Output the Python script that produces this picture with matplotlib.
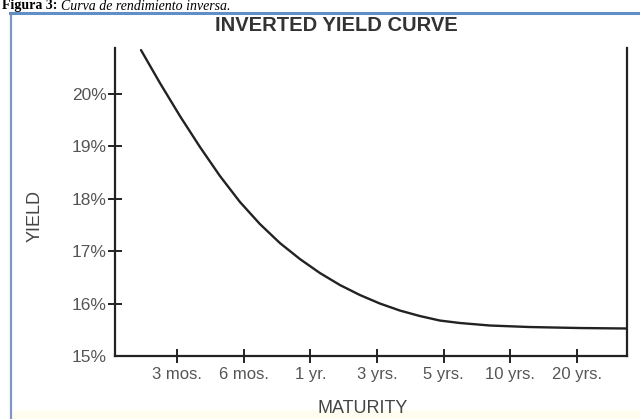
import matplotlib
matplotlib.use("Agg")
import matplotlib.pyplot as plt
import matplotlib.patches as mpatches
import numpy as np

# ---- data ----
maturity_labels = ["3 mos.", "6 mos.", "1 yr.", "3 yrs.", "5 yrs.", "10 yrs.", "20 yrs."]
yield_ticks = [15, 16, 17, 18, 19, 20]
yield_tick_labels = ["15%", "16%", "17%", "18%", "19%", "20%"]
# curve: position along maturity axis (index units) and yield (%)
curve_pos = [-0.540, -0.255, 0.045, 0.345, 0.645, 0.945, 1.244, 1.544, 1.844, 2.144,
             2.444, 2.744, 3.043, 3.343, 3.643, 3.943, 4.243, 4.693, 5.292, 6.042, 6.747]
curve_yield = [20.840, 20.210, 19.580, 18.989, 18.435, 17.939, 17.519, 17.156, 16.851, 16.584,
               16.355, 16.164, 16.002, 15.868, 15.763, 15.677, 15.630, 15.582, 15.553, 15.534, 15.525]

title = "INVERTED YIELD CURVE"
xlabel = "MATURITY"
ylabel = "YIELD"
caption_bold = "Figura 3:"
caption_italic = "Curva de rendimiento inversa."

W, H = 640, 419
fig = plt.figure(figsize=(W / 100, H / 100), dpi=100)
fig.patch.set_facecolor("white")

# light cream band at the bottom of the page frame
fig.patches.append(mpatches.Rectangle((11 / W, 0), 1, 9 / H, transform=fig.transFigure,
                                      facecolor="#fffdf0", edgecolor="none", zorder=0))
# blue page frame
fig.add_artist(plt.Line2D([11 / W, 11 / W], [-0.01, 1 - 13 / H], transform=fig.transFigure,
                          color="#7f97c4", lw=1.6))
fig.add_artist(plt.Line2D([10 / W, 1.01], [1 - 13.5 / H, 1 - 13.5 / H], transform=fig.transFigure,
                          color="#5f8fc6", lw=2.2))

# caption above the frame
renderer = fig.canvas.get_renderer()
t1 = fig.text(2 / W, 1 - 9.5 / H, caption_bold, family="Liberation Serif", weight="bold",
              fontsize=10, va="baseline", ha="left", color="black")
bb = t1.get_window_extent(renderer=renderer)
fig.text(bb.x1 / W + 4 / W, 1 - 9.5 / H, caption_italic, family="Liberation Serif",
         style="italic", fontsize=10, va="baseline", ha="left", color="black")

ax = fig.add_axes([115 / W, 63 / H, 512 / W, 308 / H])
ax.set_facecolor("none")
x = np.arange(len(maturity_labels))

ax.plot(curve_pos, curve_yield, color="#222222", lw=1.7, solid_capstyle="round",
        solid_joinstyle="round", clip_on=False)

ax.set_xlim(-0.93, 6.75)
ax.set_ylim(15, 20.88)
ax.set_xticks(x)
ax.set_xticklabels(maturity_labels)
ax.set_yticks(yield_ticks)
ax.set_yticklabels(yield_tick_labels)

for s in ["left", "bottom", "right"]:
    ax.spines[s].set_linewidth(1.6)
    ax.spines[s].set_color("#222222")
ax.spines["top"].set_visible(False)

ax.tick_params(axis="both", direction="inout", length=10, width=1.4, color="#222222",
               labelcolor="#555555", labelsize=12)
ax.tick_params(axis="y", pad=1, labelsize=12.5)
ax.tick_params(axis="x", pad=3)
ax.yaxis.get_major_ticks()[0].tick1line.set_visible(False)
for lab in ax.get_xticklabels() + ax.get_yticklabels():
    lab.set_family("Liberation Sans")

fig.text(336 / W, 1 - 25.5 / H, title, ha="center", va="center", fontsize=14.5,
         weight="bold", color="#333333", family="Liberation Sans")
fig.text(363 / W, 1 - 408 / H, xlabel, ha="center", va="center", fontsize=13,
         color="#444444", family="Liberation Sans")
fig.text(35 / W, 1 - 216 / H, ylabel, ha="center", va="center", fontsize=13,
         rotation=90, color="#444444", family="Liberation Sans")

fig.savefig("out.png", dpi=100, facecolor="white")
